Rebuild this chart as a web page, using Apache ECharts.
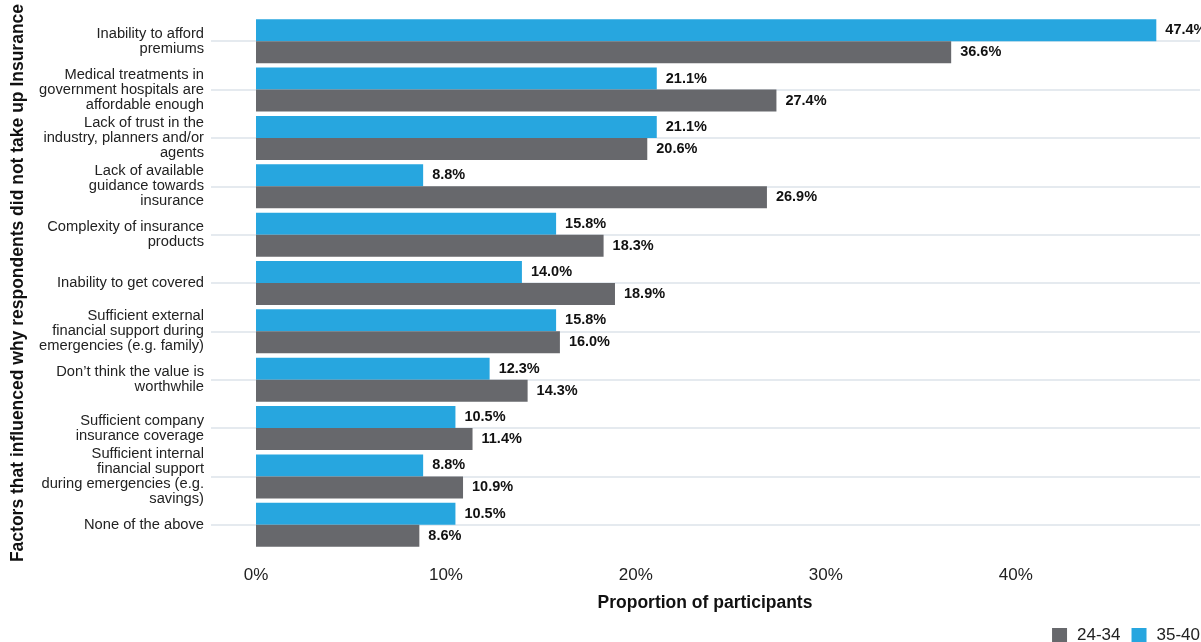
<!DOCTYPE html>
<html>
<head>
<meta charset="utf-8">
<script src="https://cdn.jsdelivr.net/npm/echarts@6/dist/echarts.min.js"></script>
<style>
  html, body { margin: 0; padding: 0; background: #ffffff; }
  #chart { width: 1201px; height: 642px; }
</style>
</head>
<body>
<div id="chart"></div>
<script>
// Reasons for not taking up insurance, by age group (% of participants)
const categories = [
  'Inability to afford\npremiums',
  'Medical treatments in\ngovernment hospitals are\naffordable enough',
  'Lack of trust in the\nindustry, planners and/or\nagents',
  'Lack of available\nguidance towards\ninsurance',
  'Complexity of insurance\nproducts',
  'Inability to get covered',
  'Sufficient external\nfinancial support during\nemergencies (e.g. family)',
  'Don\u2019t think the value is\nworthwhile',
  'Sufficient company\ninsurance coverage',
  'Sufficient internal\nfinancial support\nduring emergencies (e.g.\nsavings)',
  'None of the above'
];
const age35to40 = [47.4, 21.1, 21.1, 8.8, 15.8, 14.0, 15.8, 12.3, 10.5, 8.8, 10.5];
const age24to34 = [36.6, 27.4, 20.6, 26.9, 18.3, 18.9, 16.0, 14.3, 11.4, 10.9, 8.6];
const seriesNames = ['35-40', '24-34'];
const legendOrder = ['24-34', '35-40'];
const xTicks = [0, 10, 20, 30, 40];

const BLUE = '#27a6df';
const GREY = '#67686c';
const FONT = '"Liberation Sans", Arial, Helvetica, sans-serif';

const chart = echarts.init(document.getElementById('chart'), null, { renderer: 'canvas' });

const valueLabel = {
  show: true,
  position: 'right',
  distance: 9,
  formatter: p => p.value.toFixed(1) + '%',
  fontFamily: FONT,
  fontSize: 14.5,
  fontWeight: 'bold',
  color: '#111'
};

chart.setOption({
  animation: false,
  textStyle: { fontFamily: FONT },
  grid: {
    left: 256, right: 1, top: 17, bottom: 93,
    containLabel: false,
    outerBoundsMode: 'none'
  },
  legend: {
    data: legendOrder,
    right: -4,
    bottom: -7,
    itemWidth: 15,
    itemHeight: 15,
    itemGap: 11,
    icon: 'rect',
    textStyle: { fontFamily: FONT, fontSize: 17, color: '#222', padding: [0, 0, 0, 5] }
  },
  xAxis: {
    type: 'value',
    min: 0,
    max: 49.7,
    interval: 10,
    name: 'Proportion of participants',
    nameLocation: 'middle',
    nameGap: 45,
    nameTextStyle: {
      fontFamily: FONT, fontSize: 17.5, fontWeight: 'bold', color: '#111',
      padding: [0, 46, 0, 0]
    },
    axisLine: { show: false },
    axisTick: { show: false },
    splitLine: { show: false },
    axisLabel: {
      showMaxLabel: false,
      margin: 18,
      fontFamily: FONT,
      fontSize: 17,
      color: '#222',
      formatter: v => (xTicks.indexOf(v) >= 0 ? v + '%' : '')
    }
  },
  yAxis: [
    {
      type: 'category',
      inverse: true,
      data: categories,
      name: 'Factors that influenced why respondents did not take up Insurance',
      nameLocation: 'middle',
      nameGap: 229,
      nameRotate: 90,
      nameTextStyle: { fontFamily: FONT, fontSize: 17.5, fontWeight: 'bold', color: '#111' },
      axisLine: { show: false },
      axisTick: {
        show: true,
        alignWithLabel: true,
        length: 45,
        lineStyle: { color: '#dde4ea', width: 1.5 }
      },
      splitLine: { show: false },
      axisLabel: {
        margin: 52,
        fontFamily: FONT,
        fontSize: 14.7,
        lineHeight: 15,
        color: '#222',
        align: 'right'
      }
    },
    {
      // inward ticks act as the horizontal guide lines at each category
      type: 'category',
      inverse: true,
      position: 'left',
      data: categories,
      axisLine: { show: false },
      axisLabel: { show: false },
      splitLine: { show: false },
      axisTick: {
        show: true,
        inside: true,
        alignWithLabel: true,
        length: 944,
        lineStyle: { color: '#dde4ea', width: 1.5 }
      }
    }
  ],
  series: [
    {
      name: seriesNames[0],
      type: 'bar',
      yAxisIndex: 0,
      data: age35to40,
      barGap: '0%',
      barCategoryGap: '9%',
      itemStyle: { color: BLUE },
      label: valueLabel,
      z: 3
    },
    {
      name: seriesNames[1],
      type: 'bar',
      yAxisIndex: 0,
      data: age24to34,
      barGap: '0%',
      barCategoryGap: '9%',
      itemStyle: { color: GREY },
      label: valueLabel,
      z: 3
    }
  ]
});
</script>
</body>
</html>
